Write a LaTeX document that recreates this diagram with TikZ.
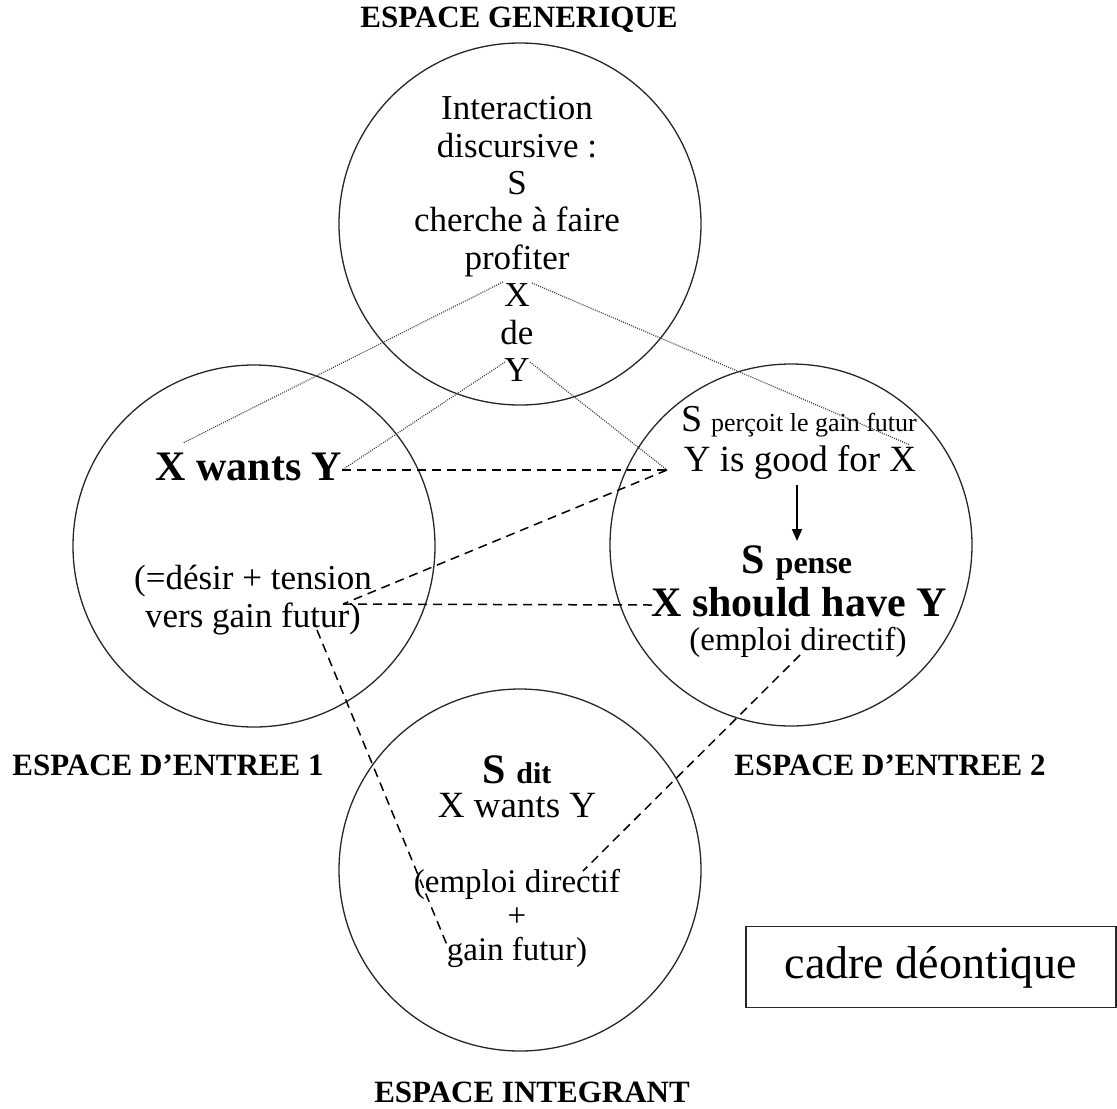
\documentclass[tikz,border=0pt]{standalone}
\usepackage{fontspec}
\setmainfont{Liberation Serif}
\usepackage{tikz}
\usetikzlibrary{arrows.meta}
\newcommand{\bigS}{{\fontsize{19pt}{19pt}\selectfont S}}
\newcommand{\boldS}{{\fontsize{21pt}{21pt}\selectfont S}}

\begin{document}
\begin{tikzpicture}[
		x=0.5pt,y=-0.5pt,
		espace/.style={circle,draw=black!85,line width=0.65pt,minimum size=181pt,inner sep=0pt},
		txt/.style={align=center,inner sep=0pt,font=\fontsize{17.5pt}{18.7pt}\selectfont},
		bold txt/.style={txt,font=\fontsize{21pt}{22pt}\selectfont\bfseries},
		title/.style={inner sep=1pt,font=\fontsize{15.5pt}{16pt}\selectfont\bfseries},
		dots/.style={line width=0.6pt,dash pattern=on 0.5pt off 0.6pt,black!75},
		dashline/.style={line width=0.75pt,dash pattern=on 4.5pt off 3pt}
		]
		\useasboundingbox (0,0) rectangle (1117,1108);

		% the four spaces
		\node[espace] (gen) at (520,224) {};
		\node[espace] (in1) at (254,546) {};
		\node[espace] (in2) at (791,545) {};
		\node[espace] (int) at (520,870) {};

		\node[title] (lgen) at (519,20)   {ESPACE GENERIQUE};
		\node[title] (lin1) at (168,765)  {ESPACE D’ENTREE 1};
		\node[title] (lin2) at (890,765)  {ESPACE D’ENTREE 2};
		\node[title] (lint) at (532,1092) {ESPACE INTEGRANT};

		% generic space
		\node[txt] (gtext) at (517,239) {Interaction\\discursive :\\S\\cherche à faire\\profiter\\X\\de\\Y};

		% input space 1
		\node[bold txt] (want) at (249,467) {X wants Y};
		\node[txt] (desir) at (253,600) {(=désir + tension\\vers gain futur)};

		% input space 2
		\node[txt] (perc) at (799,422) {\bigS\ \fontsize{13pt}{13pt}\selectfont perçoit le gain futur};
		\node[txt,font=\fontsize{18.5pt}{19pt}\selectfont] (good) at (800,462) {Y is good for X};
		\node[bold txt] (pense) at (797,563) {\boldS\ \fontsize{16pt}{16pt}\selectfont pense};
		\node[bold txt] (should) at (799,602) {X should have Y};
		\node[txt,font=\fontsize{16.5pt}{17pt}\selectfont] (dir) at (798,642) {(emploi directif)};

		% blended space
		\node[bold txt] (dit) at (517,770) {\boldS\ \fontsize{15pt}{15pt}\selectfont dit};
		\node[txt,font=\fontsize{18.5pt}{19pt}\selectfont] (want2) at (517,806) {X wants Y};
		\node[txt,font=\fontsize{16.5pt}{17pt}\selectfont] (gain) at (517,918) {(emploi directif\\+\\gain futur)};

		\node[draw=black!85,line width=0.7pt,minimum width=185pt,minimum height=40.5pt,
			font=\fontsize{23pt}{23pt}\selectfont] (cadre) at (931,967) {cadre déontique};

		% end points of the links
		\coordinate (gX1) at (503,282);
		\coordinate (gX2) at (532,283);
		\coordinate (gY1) at (505,362);
		\coordinate (gY2) at (530,362);
		\coordinate (w1) at (183,443);
		\coordinate (w2) at (342,470);
		\coordinate (p1) at (910,445);
		\coordinate (p2) at (667,470);
		\coordinate (d1) at (343,604);
		\coordinate (s1) at (652,605);
		\coordinate (d2) at (317,630);
		\coordinate (b1) at (447,945);
		\coordinate (s2) at (800,655);
		\coordinate (b2) at (583,871);
		\coordinate (a1) at (797,485);
		\coordinate (a2) at (797,541);

		\draw[dots] (gX1) -- (w1);
		\draw[dots] (gX2) -- (p1);
		\draw[dots] (gY1) -- (w2);
		\draw[dots] (gY2) -- (p2);

		\draw[dashline] (w2) -- (p2);
		\draw[dashline] (p2) -- (d1);
		\draw[dashline] (d1) -- (s1);
		\draw[dashline] (d2) -- (b1);
		\draw[dashline] (s2) -- (b2);

		\draw[-{Triangle[length=6pt,width=5pt]},line width=0.8pt] (a1) -- (a2);
	\end{tikzpicture}
\end{document}
